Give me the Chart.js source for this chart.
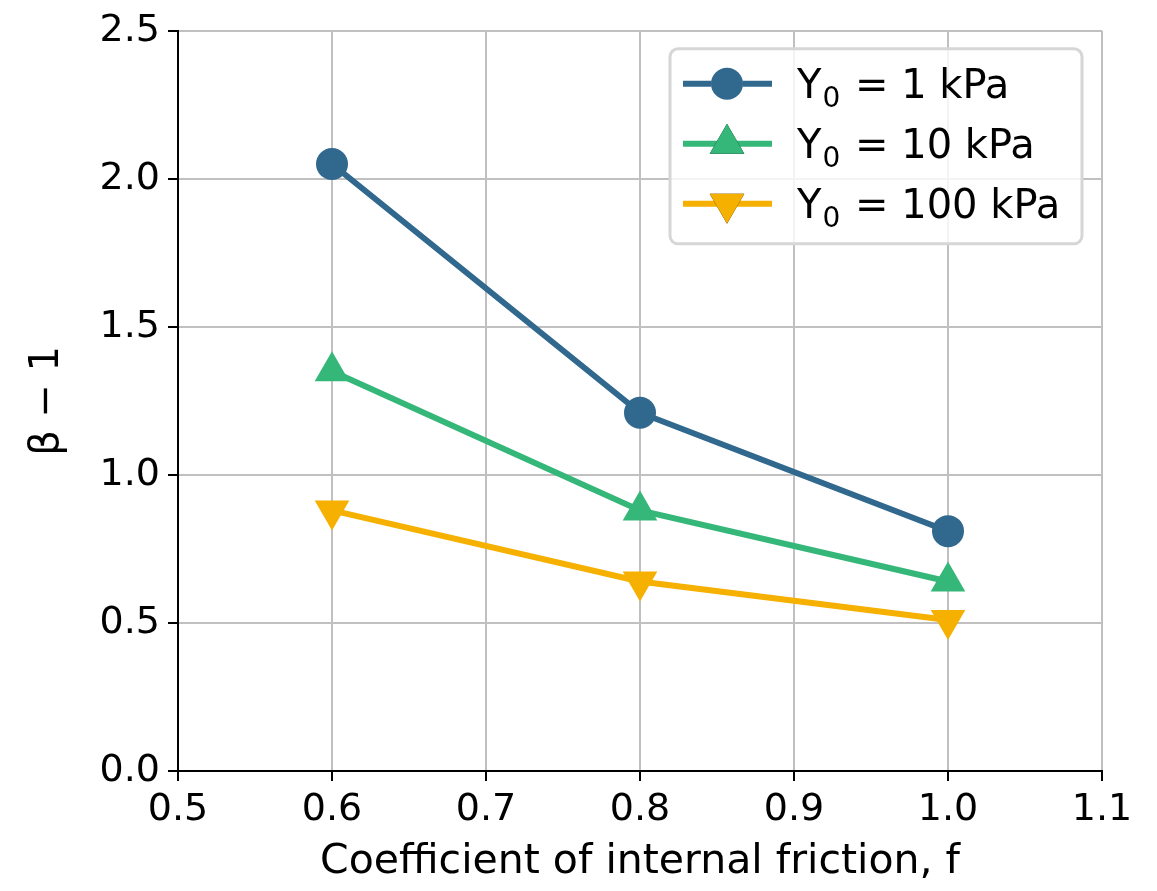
<!DOCTYPE html>
<html>
<head>
<meta charset="utf-8">
<script src="https://cdn.jsdelivr.net/npm/chart.js@4/dist/chart.umd.min.js"></script>
<style>
  html, body { margin: 0; padding: 0; background: #fff; }
  #wrap { width: 1157px; height: 891px; }
</style>
</head>
<body>
<div id="wrap"><canvas id="myChart" width="1157" height="891"></canvas></div>
<script>
const frictionCoef = [0.6, 0.8, 1.0];
const y0_1kPa = [2.05, 1.21, 0.81];
const y0_10kPa = [1.35, 0.88, 0.64];
const y0_100kPa = [0.88, 0.64, 0.51];
const seriesLabels = ['Y\u2080 = 1 kPa', 'Y\u2080 = 10 kPa', 'Y\u2080 = 100 kPa'];
const xTicks = [0.5, 0.6, 0.7, 0.8, 0.9, 1.0, 1.1];
const yTicks = [0.0, 0.5, 1.0, 1.5, 2.0, 2.5];

const FONT = "'DejaVu Sans', sans-serif";

function pts(ys) {
    return frictionCoef.map((x, i) => ({ x: x, y: ys[i] }));
}

// legend box drawn inside the plot area, upper right
const boxLegend = {
    id: 'boxLegend',
    afterDraw(chart) {
        const ctx = chart.ctx;
        const area = chart.chartArea;
        const w = 412, h = 195;
        const x0 = area.right - 20 - w, y0 = area.top + 18;
        ctx.save();
        ctx.beginPath();
        ctx.roundRect(x0, y0, w, h, 8);
        ctx.fillStyle = 'rgba(255,255,255,0.8)';
        ctx.fill();
        ctx.lineWidth = 3;
        ctx.strokeStyle = '#d6d6d6';
        ctx.stroke();
        chart.data.datasets.forEach((ds, i) => {
            const cy = y0 + 35 + i * 60;
            ctx.beginPath();
            ctx.moveTo(x0 + 13, cy);
            ctx.lineTo(x0 + 102, cy);
            ctx.lineWidth = ds.borderWidth;
            ctx.strokeStyle = ds.borderColor;
            ctx.stroke();
            Chart.helpers.drawPoint(ctx, {
                pointStyle: ds.pointStyle,
                rotation: ds.pointRotation || 0,
                radius: ds.pointRadius,
                borderWidth: 0
            }, x0 + 57, cy);
            ctx.fillStyle = ds.backgroundColor;
            ctx.fill();
            // label with a real subscript
            const parts = ds.label.split('\u2080');
            ctx.fillStyle = '#000';
            ctx.textBaseline = 'alphabetic';
            ctx.textAlign = 'left';
            let tx = x0 + 127;
            const base = cy + 14;
            ctx.font = '40px ' + FONT;
            ctx.fillText(parts[0], tx, base);
            tx += ctx.measureText(parts[0]).width;
            ctx.font = '28px ' + FONT;
            ctx.fillText('0', tx + 1, base + 9);
            tx += ctx.measureText('0').width + 3;
            ctx.font = '40px ' + FONT;
            ctx.fillText(parts[1], tx, base);
        });
        ctx.restore();
    }
};

const data = {
    datasets: [{
        label: seriesLabels[0],
        data: pts(y0_1kPa),
        borderColor: '#31688e',
        backgroundColor: '#31688e',
        borderWidth: 6,
        pointStyle: 'circle',
        pointRadius: 16,
        pointBorderWidth: 0
    }, {
        label: seriesLabels[1],
        data: pts(y0_10kPa),
        borderColor: '#35b779',
        backgroundColor: '#35b779',
        borderWidth: 6,
        pointStyle: 'triangle',
        pointRadius: 20,
        pointBorderWidth: 0
    }, {
        label: seriesLabels[2],
        data: pts(y0_100kPa),
        borderColor: '#f5b000',
        backgroundColor: '#f5b000',
        borderWidth: 6,
        pointStyle: 'triangle',
        pointRotation: 180,
        pointRadius: 20,
        pointBorderWidth: 0
    }]
};

const config = {
    type: 'line',
    data: data,
    plugins: [boxLegend],
    options: {
        responsive: false,
        animation: false,
        layout: { padding: { top: 27, right: 55, left: 0, bottom: 0 } },
        elements: { line: { tension: 0 } },
        plugins: {
            legend: { display: false },
            tooltip: { enabled: false }
        },
        scales: {
            x: {
                type: 'linear',
                min: 0.5,
                max: 1.1,
                afterBuildTicks: axis => { axis.ticks = xTicks.map(v => ({ value: v })); },
                afterFit: axis => { axis.height = 120; },
                grid: { color: '#c0c0c0', lineWidth: 2, tickLength: 10, tickColor: '#000', tickWidth: 2 },
                border: { color: '#000', width: 2 },
                ticks: {
                    color: '#000',
                    font: { family: FONT, size: 38 },
                    padding: 6,
                    maxRotation: 0,
                    callback: v => v.toFixed(1)
                },
                title: {
                    display: true,
                    text: 'Coefficient of internal friction, f',
                    color: '#000',
                    font: { family: FONT, size: 41 },
                    padding: { top: 0 }
                }
            },
            y: {
                type: 'linear',
                min: 0,
                max: 2.5,
                afterBuildTicks: axis => { axis.ticks = yTicks.map(v => ({ value: v })); },
                afterFit: axis => { axis.width = 178; },
                grid: { color: '#c0c0c0', lineWidth: 2, tickLength: 10, tickColor: '#000', tickWidth: 2 },
                border: { color: '#000', width: 2 },
                ticks: {
                    color: '#000',
                    font: { family: FONT, size: 38 },
                    padding: 8,
                    callback: v => v.toFixed(1)
                },
                title: {
                    display: true,
                    text: '\u03b2 \u2212 1',
                    color: '#000',
                    font: { family: FONT, size: 40 },
                    padding: { top: 24, bottom: 8 }
                }
            }
        }
    }
};

const chart = new Chart(document.getElementById('myChart'), config);
</script>
</body>
</html>
